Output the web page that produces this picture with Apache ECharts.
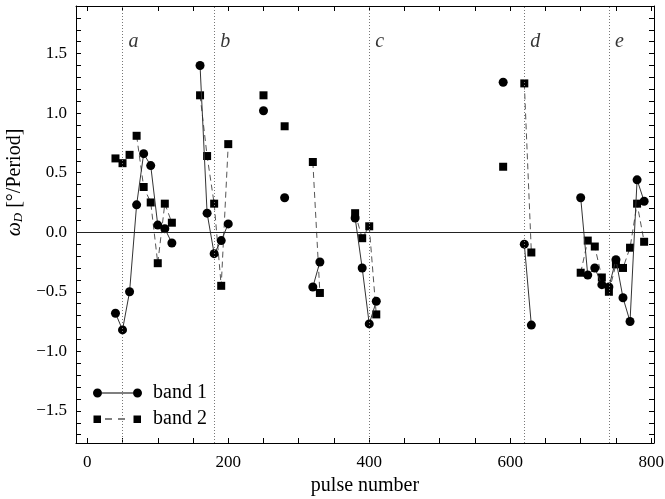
<!DOCTYPE html>
<html>
<head>
<meta charset="utf-8">
<script src="https://cdn.jsdelivr.net/npm/echarts@6/dist/echarts.min.js"></script>
<style>
  html, body { margin: 0; padding: 0; background: #fff; }
  #chart { width: 665px; height: 499px; }
</style>
</head>
<body>
<div id="chart"></div>
<script>
// band 1 (circles, solid line); null marks a break in the line
const band1Pulse = [40, 50, 60, 70, 80, 90, 100, 110, 120, null,
                    160, 170, 180, 190, 200, null,
                    250, null, 280, null,
                    320, 330, null,
                    380, 390, 400, 410, null,
                    590, null,
                    620, 630, null,
                    700, 710, 720, 730, 740, 750, 760, 770, 780, 790];
const band1Value = [-0.68, -0.82, -0.50, 0.23, 0.66, 0.56, 0.06, 0.03, -0.09, null,
                    1.40, 0.16, -0.18, -0.07, 0.07, null,
                    1.02, null, 0.29, null,
                    -0.46, -0.25, null,
                    0.12, -0.30, -0.77, -0.58, null,
                    1.26, null,
                    -0.10, -0.78, null,
                    0.29, -0.36, -0.30, -0.44, -0.46, -0.23, -0.55, -0.75, 0.44, 0.26];

// band 2 (squares, dashed line)
const band2Pulse = [40, null, 50, null, 60, null,
                    70, 80, 90, 100, 110, 120, null,
                    160, 170, 180, 190, 200, null,
                    250, null, 280, null,
                    320, 330, null,
                    380, 390, 400, 410, null,
                    590, null,
                    620, 630, null,
                    700, 710, 720, 730, 740, 750, 760, 770, 780, 790];
const band2Value = [0.62, null, 0.58, null, 0.65, null,
                    0.81, 0.38, 0.25, -0.26, 0.24, 0.08, null,
                    1.15, 0.64, 0.24, -0.45, 0.74, null,
                    1.15, null, 0.89, null,
                    0.59, -0.51, null,
                    0.16, -0.05, 0.05, -0.69, null,
                    0.55, null,
                    1.25, -0.17, null,
                    -0.34, -0.07, -0.12, -0.38, -0.50, -0.27, -0.30, -0.13, 0.24, -0.08];

// dotted separators and their letters
const separatorPulse = [50, 180, 400, 620, 740];
const separatorLabels = ['a', 'b', 'c', 'd', 'e'];
const separatorLabelY = 1.6;

// tick labels
const xTickLabels = [0, 200, 400, 600, 800];
const yTickLabels = [-1.5, -1.0, -0.5, 0.0, 0.5, 1.0, 1.5];

const xMin = -16, xMax = 804;
const yMin = -1.77, yMax = 1.9;

const xTicks = [];
for (let v = 0; v <= 800; v += 50) xTicks.push(v);
const yTicks = [];
for (let i = -17; i <= 18; i++) yTicks.push(i / 10);

function toPairs(xs, ys) {
    return xs.map((x, i) => (x === null ? ['-', '-'] : [x, ys[i]]));
}

const serif = 'Liberation Serif';
const ink = '#000';

// legend glyphs: marker - line - marker
const dot = cx => `M${cx - 4.5},4.5 C${cx - 4.5},2 ${cx - 2.5},0 ${cx},0 C${cx + 2.5},0 ${cx + 4.5},2 ${cx + 4.5},4.5 ` +
                  `C${cx + 4.5},7 ${cx + 2.5},9 ${cx},9 C${cx - 2.5},9 ${cx - 4.5},7 ${cx - 4.5},4.5 Z `;
const box = x0 => `M${x0},1 L${x0 + 7.5},1 L${x0 + 7.5},8.5 L${x0},8.5 Z `;
const circleIcon = 'path://' + dot(4.5) + 'M9,4 L40,4 L40,5 L9,5 Z ' + dot(44.5);
const squareIcon = 'path://' + box(0.5) + 'M12,4 L19,4 L19,5 L12,5 Z M25,4 L32,4 L32,5 L25,5 Z ' + box(40.5) +
                   'M0,0 L0.01,0 L0.01,9 L0,9 Z M48.99,0 L49,0 L49,9 L48.99,9 Z';

const chart = echarts.init(document.getElementById('chart'), null, { renderer: 'canvas' });

const tickStyle = { inside: true, length: 5, lineStyle: { color: ink, width: 1 } };

const option = {
    animation: false,
    backgroundColor: '#fff',
    grid: { left: 76, right: 11, top: 6, bottom: 56, containLabel: false, outerBoundsMode: 'none' },
    legend: {
        orient: 'vertical',
        left: 88,
        top: 378,
        itemWidth: 49,
        itemHeight: 9,
        itemGap: 6,
        data: [
            { name: 'band 1', icon: circleIcon },
            { name: 'band 2', icon: squareIcon }
        ],
        textStyle: { fontFamily: serif, fontSize: 20, color: ink, padding: [0, 0, 0, 6], lineHeight: 20 }
    },
    xAxis: [{
        type: 'value', position: 'bottom', min: xMin, max: xMax,
        axisLine: { show: true, onZero: false, lineStyle: { color: ink, width: 1 } },
        axisTick: Object.assign({ customValues: xTicks }, tickStyle),
        axisLabel: {
            customValues: xTickLabels, margin: 11,
            fontFamily: serif, fontSize: 17, color: ink,
            formatter: v => String(v)
        },
        splitLine: { show: false },
        name: 'pulse number', nameLocation: 'middle', nameGap: 32,
        nameTextStyle: { fontFamily: serif, fontSize: 20, color: ink }
    }, {
        type: 'value', position: 'top', min: xMin, max: xMax,
        axisLine: { show: true, onZero: false, lineStyle: { color: ink, width: 1 } },
        axisTick: Object.assign({ customValues: xTicks }, tickStyle),
        axisLabel: { show: false },
        splitLine: { show: false }
    }],
    yAxis: [{
        type: 'value', position: 'left', min: yMin, max: yMax,
        axisLine: { show: true, onZero: false, lineStyle: { color: ink, width: 1 } },
        axisTick: Object.assign({ customValues: yTicks }, tickStyle),
        axisLabel: {
            customValues: yTickLabels, margin: 9,
            fontFamily: serif, fontSize: 17, color: ink,
            formatter: v => (v < 0 ? '\u2212' : '') + Math.abs(v).toFixed(1)
        },
        splitLine: { show: false },
        name: '{w|\u03c9}{d|D} [\u00b0/Period]', nameLocation: 'middle', nameGap: 38,
        nameTextStyle: {
            fontFamily: serif, fontSize: 20, color: ink, padding: [0, 0, 0, 84],
            rich: {
                w: { fontFamily: serif, fontSize: 20, fontStyle: 'italic', color: ink },
                d: { fontFamily: serif, fontSize: 13, fontStyle: 'italic', color: ink, verticalAlign: 'bottom', padding: [8, 0, 0, 0] }
            }
        }
    }, {
        type: 'value', position: 'right', min: yMin, max: yMax,
        axisLine: { show: true, onZero: false, lineStyle: { color: ink, width: 1 } },
        axisTick: Object.assign({ customValues: yTicks }, tickStyle),
        axisLabel: { show: false },
        splitLine: { show: false }
    }],
    series: [{
        name: 'guides',
        type: 'scatter',
        symbolSize: 0,
        silent: true,
        data: separatorPulse.map((x, i) => ({ value: [x, separatorLabelY], name: separatorLabels[i] })),
        label: {
            show: true, position: 'right', distance: 6,
            formatter: p => p.name,
            fontFamily: serif, fontSize: 20, fontStyle: 'italic', color: ink
        },
        markLine: {
            silent: true,
            symbol: 'none',
            label: { show: false },
            data: separatorPulse.map(x => ({ xAxis: x, lineStyle: { type: [1, 2], color: '#777', width: 1 } }))
                .concat([{ yAxis: 0, lineStyle: { type: 'solid', color: '#222', width: 1 } }])
        }
    }, {
        name: 'band 2',
        type: 'line',
        data: toPairs(band2Pulse, band2Value),
        connectNulls: false,
        symbol: 'rect',
        symbolSize: 8,
        showAllSymbol: true,
        itemStyle: { color: ink },
        lineStyle: { color: '#555', width: 1, type: [6, 4] },
        z: 3
    }, {
        name: 'band 1',
        type: 'line',
        data: toPairs(band1Pulse, band1Value),
        connectNulls: false,
        symbol: 'circle',
        symbolSize: 9,
        showAllSymbol: true,
        itemStyle: { color: ink },
        lineStyle: { color: '#333', width: 1 },
        z: 4
    }]
};

chart.setOption(option);
</script>
</body>
</html>
